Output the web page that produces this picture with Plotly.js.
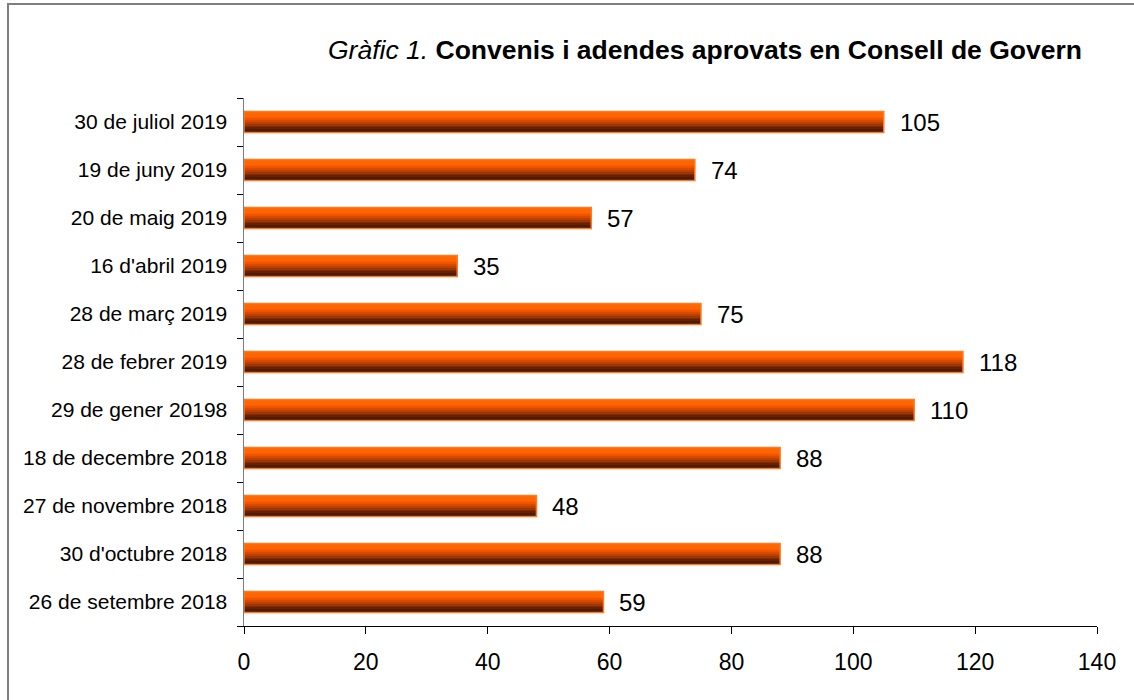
<!DOCTYPE html>
<html>
<head>
<meta charset="utf-8">
<script src="https://cdn.plot.ly/plotly-3.0.1.min.js"></script>
<style>
  html, body { margin: 0; padding: 0; background: #fff; }
  #wrap { position: relative; width: 1134px; height: 700px; overflow: hidden; }
  #chart { width: 1134px; height: 700px; }
  #frame { position: absolute; left: 7px; top: 3px; width: 1200px; height: 800px;
           border-top: 2px solid #7f7f7f; border-left: 2px solid #7f7f7f; pointer-events: none; }
</style>
</head>
<body>
<div id="wrap">
  <div id="chart"></div>
  <div id="frame"></div>
</div>
<script>
// Categories (bottom to top)
const categories = [
  "26 de setembre 2018",
  "30 d'octubre 2018",
  "27 de novembre 2018",
  "18 de decembre 2018",
  "29 de gener 20198",
  "28 de febrer 2019",
  "28 de març 2019",
  "16 d'abril 2019",
  "20 de maig 2019",
  "19 de juny 2019",
  "30 de juliol 2019"
];
const values = [59, 88, 48, 88, 110, 118, 75, 35, 57, 74, 105];
const xTicks = [0, 20, 40, 60, 80, 100, 120, 140];

const FONT = "Arial, 'Liberation Sans', sans-serif";
const barW = 0.44;
// gradient slices: bottom (dark) to top (orange)
const sliceColors = ['#3a1300','#4e1a00','#662200','#812c00','#9e3600','#bb4000','#d84a00','#ee5500','#fb6000','#ff6600','#ff6600','#ff6600'];
const N = sliceColors.length;
const traces = [];
sliceColors.forEach((c, i) => {
  traces.push({
    type: 'bar', orientation: 'h',
    x: values, y: categories,
    width: barW / N + 0.002,
    offset: -barW / 2 + i * barW / N,
    marker: { color: c, line: { width: 0 } },
    hoverinfo: 'skip', showlegend: false
  });
});
// outline
traces.push({
  type: 'bar', orientation: 'h',
  x: values, y: categories,
  width: barW, offset: -barW / 2,
  marker: { color: 'rgba(0,0,0,0)', line: { width: 1.5, color: '#ff7a26' } },
  hoverinfo: 'skip', showlegend: false
});

const annotations = values.map((v, i) => ({
  x: v, y: categories[i], xref: 'x', yref: 'y',
  text: String(v), showarrow: false, xanchor: 'left', yanchor: 'middle',
  xshift: 14, font: { family: FONT, size: 24, color: '#000' }
}));

const layout = {
  width: 1134, height: 700,
  margin: { l: 244, r: 37, t: 98, b: 74 },
  paper_bgcolor: '#fff', plot_bgcolor: '#fff',
  barmode: 'overlay',
  bargap: 0,
  title: {
    text: "<i>Gràfic 1.</i> <b>Convenis i adendes aprovats en Consell de Govern</b>",
    font: { family: FONT, size: 26.5, color: '#000' },
    xref: 'container', yref: 'container',
    x: 705 / 1134, xanchor: 'center', y: 1 - 50 / 700, yanchor: 'middle'
  },
  xaxis: {
    range: [0, 140], tickvals: xTicks, ticktext: xTicks.map(String),
    showgrid: false, zeroline: false,
    showline: true, linecolor: '#000', linewidth: 1,
    ticks: 'outside', ticklen: 7, tickcolor: '#000', tickwidth: 1,
    ticklabelstandoff: 8,
    tickfont: { family: FONT, size: 23, color: '#000' },
    fixedrange: true
  },
  yaxis: {
    type: 'category', categoryorder: 'array', categoryarray: categories,
    showgrid: false, zeroline: false,
    showline: true, linecolor: '#7f7f7f', linewidth: 1.5,
    ticks: 'outside', ticklen: 6, tickcolor: '#000', tickwidth: 1,
    tickson: 'boundaries',
    ticklabelstandoff: 11,
    tickfont: { family: FONT, size: 21, color: '#000' },
    fixedrange: true
  },
  annotations: annotations
};

Plotly.newPlot('chart', traces, layout, { displayModeBar: false, staticPlot: true });
</script>
</body>
</html>
